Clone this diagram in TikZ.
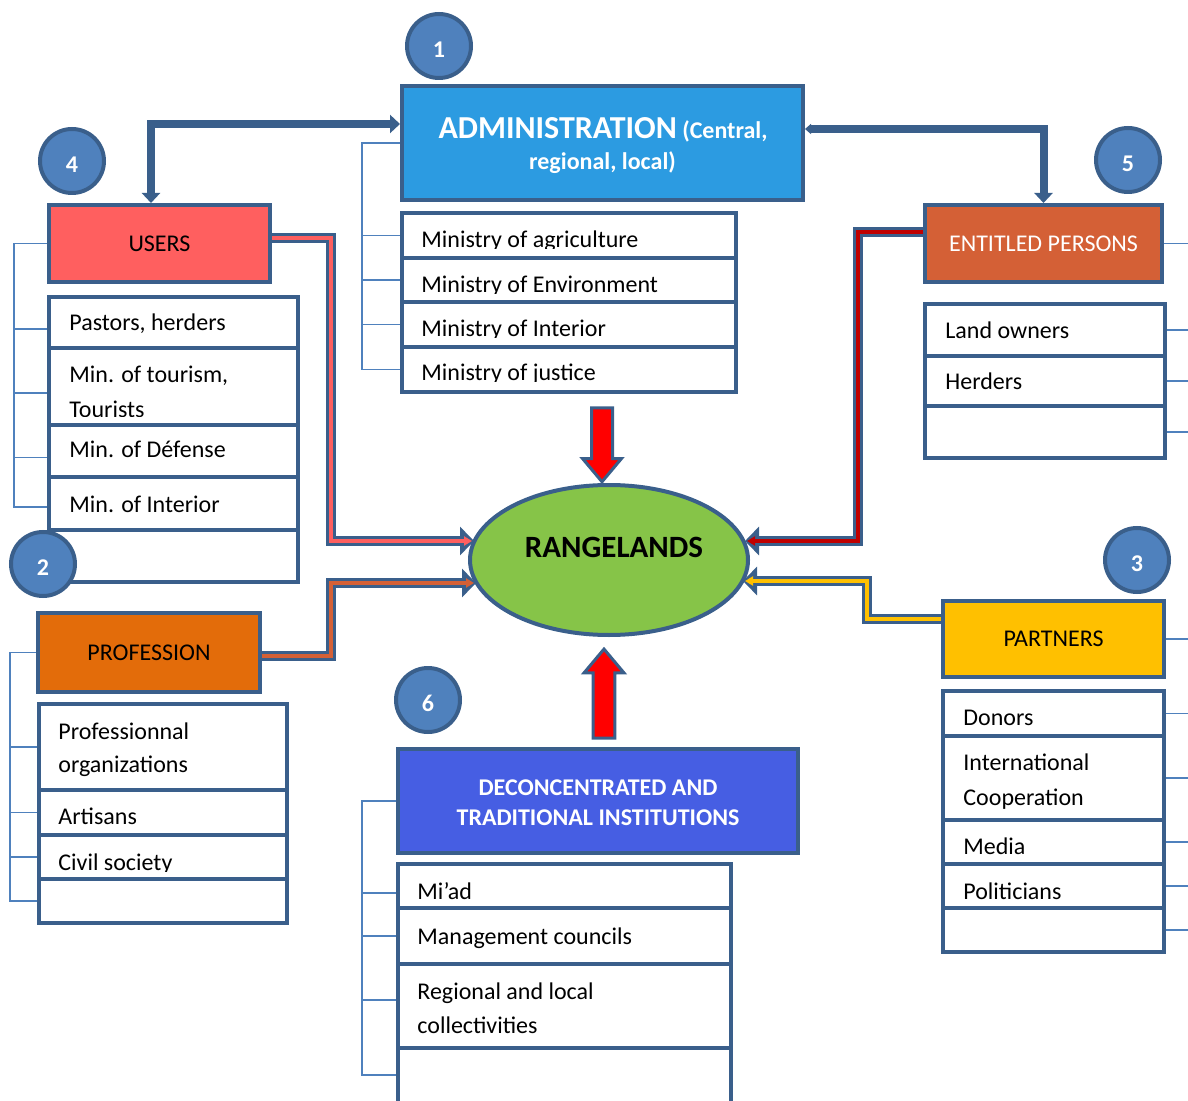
\documentclass[tikz,border=0pt]{standalone}
\usepackage{fontspec}
\setmainfont{Carlito}
\usetikzlibrary{arrows.meta,shapes.geometric,shapes.arrows}

\definecolor{edgeblue}{RGB}{58,95,139}
\definecolor{linkblue}{RGB}{79,129,189}
\definecolor{ballblue}{RGB}{79,129,189}
\definecolor{adminblue}{RGB}{44,155,225}
\definecolor{usersred}{RGB}{255,95,95}
\definecolor{entitledrust}{RGB}{212,96,54}
\definecolor{proforange}{RGB}{227,108,10}
\definecolor{partnersgold}{RGB}{255,192,0}
\definecolor{deconblue}{RGB}{70,94,227}
\definecolor{rangegreen}{RGB}{134,196,72}
\definecolor{darkred}{RGB}{192,0,0}

\begin{document}
\begin{tikzpicture}[x=0.5pt, y=-0.5pt,
  every node/.style={inner sep=0pt},
  box/.style={rectangle, draw=edgeblue, line width=2pt},
  head/.style={box, font=\fontsize{12}{14}\selectfont},
  row/.style={box, fill=white},
  item/.style={anchor=base west, font=\fontsize{12}{14}\selectfont},
  title/.style={anchor=base, text=white, font=\bfseries\fontsize{12}{14}\selectfont},
  ball/.style={circle, draw=edgeblue, line width=2pt, fill=ballblue, minimum size=32pt,
    text=white, text height=11.5pt, text depth=0pt, font=\bfseries\fontsize{12}{14}\selectfont},
  bracket/.style={draw=linkblue, line width=0.75pt},
  link/.style={draw=edgeblue, line width=4pt},
  flowout/.style={draw=edgeblue, line width=5pt, -{Triangle[length=7pt,width=14pt]}},
  flowin/.style={line width=2pt, -{Triangle[length=4pt,width=4.5pt]}, shorten >=1pt},
  block/.style={single arrow, draw=edgeblue, fill=red, line width=1.5pt,
    single arrow tip angle=80, single arrow head extend=4.5pt, inner sep=4.5pt}
]
\useasboundingbox (0,0) rectangle (1188,1101);
\coordinate (edge) at (1188,0);

% headers
\node[box, fill=adminblue, minimum width=200.5pt, minimum height=57pt] (admin) at (602.5,143) {};
\node[title] (admintitle) at (603,139) {{\fontsize{16}{18}\selectfont ADMINISTRATION} (Central,};
\node[title] (admintitle2) at (602.5,170) {regional, local)};
\node[head, fill=usersred, minimum width=110.5pt, minimum height=38.5pt] (users) at (159.5,243.5) {USERS};
\node[head, fill=entitledrust, text=white, minimum width=118.5pt, minimum height=38.5pt] (entitled) at (1043.5,243.5) {ENTITLED PERSONS};
\node[head, fill=proforange, minimum width=111pt, minimum height=39.5pt] (profession) at (149,652.5) {PROFESSION};
\node[head, fill=partnersgold, minimum width=110.5pt, minimum height=38pt] (partners) at (1053.5,639) {PARTNERS};
\node[box, fill=deconblue, minimum width=200pt, minimum height=52pt] (decon) at (598,801) {};
\node[title] (decontitle) at (598,795.7) {DECONCENTRATED AND};
\node[title] (decontitle2) at (598,825.7) {TRADITIONAL INSTITUTIONS};

% ministries
\node[row, minimum width=167pt, minimum height=22.5pt] (m1) at (569,235.5) {};
\node[row, minimum width=167pt, minimum height=22pt] (m2) at (569,280) {};
\node[row, minimum width=167pt, minimum height=22.5pt] (m3) at (569,324.5) {};
\node[row, minimum width=167pt, minimum height=22.5pt] (m4) at (569,369.5) {};
\begin{scope}
\clip (402,213) rectangle (736,249);
\node[item] (tm1) at (421,247.5) {Ministry of agriculture};
\end{scope}
\begin{scope}
\clip (402,258) rectangle (736,293.5);
\node[item] (tm2) at (421,292.2) {Ministry of Environment};
\end{scope}
\begin{scope}
\clip (402,302) rectangle (736,337.5);
\node[item] (tm3) at (421,336.5) {Ministry of Interior};
\end{scope}
\begin{scope}
\clip (402,347) rectangle (736,382);
\node[item] (tm4) at (421,381) {Ministry of justice};
\end{scope}

% users
\node[row, minimum width=124.5pt, minimum height=25.5pt] (u1) at (173.5,322.5) {};
\node[row, minimum width=124.5pt, minimum height=38.5pt] (u2) at (173.5,386.5) {};
\node[row, minimum width=124.5pt, minimum height=26pt] (u3) at (173.5,451) {};
\node[row, minimum width=124.5pt, minimum height=26.5pt] (u4) at (173.5,503.5) {};
\node[row, minimum width=124.5pt, minimum height=26pt] (u5) at (173.5,556) {};
\node[item] (tu1) at (69,331) {Pastors, herders};
\node[item] (tu2) at (69,383) {Min. of tourism,};
\begin{scope}
\clip (49,390) rectangle (298,416.5);
\node[item] (tu2b) at (69,417) {Tourists};
\end{scope}
\node[item] (tu3) at (69,458) {Min. of Défense};
\node[item] (tu4) at (69,512.5) {Min. of Interior};

% profession
\node[row, minimum width=124pt, minimum height=43pt] (p1) at (163,747) {};
\node[row, minimum width=124pt, minimum height=22.5pt] (p2) at (163,812.5) {};
\node[row, minimum width=124pt, minimum height=22pt] (p3) at (163,857) {};
\node[row, minimum width=124pt, minimum height=22pt] (p4) at (163,901) {};
\node[item] (tp1) at (58,739) {Professionnal};
\node[item] (tp1b) at (58,772.5) {organizations};
\node[item] (tp2) at (58,824.5) {Artisans};
\begin{scope}
\clip (39,835) rectangle (287,871);
\node[item] (tp3) at (58,870) {Civil society};
\end{scope}

% entitled persons
\node[row, minimum width=120pt, minimum height=26pt] (e1) at (1045,330) {};
\node[row, minimum width=120pt, minimum height=25pt] (e2) at (1045,381) {};
\node[row, minimum width=120pt, minimum height=26pt] (e3) at (1045,432) {};
\node[item] (te1) at (945,338.5) {Land owners};
\node[item] (te2) at (945,390) {Herders};

% partners
\node[row, minimum width=110.5pt, minimum height=22.5pt] (pa1) at (1053.5,713.5) {};
\node[row, minimum width=110.5pt, minimum height=42pt] (pa2) at (1053.5,778) {};
\node[row, minimum width=110.5pt, minimum height=22pt] (pa3) at (1053.5,842) {};
\node[row, minimum width=110.5pt, minimum height=22pt] (pa4) at (1053.5,886) {};
\node[row, minimum width=110.5pt, minimum height=22pt] (pa5) at (1053.5,930) {};
\node[item] (tpa1) at (963,725.5) {Donors};
\node[item] (tpa2) at (963,770) {International};
\node[item] (tpa2b) at (963,805) {Cooperation};
\node[item] (tpa3) at (963,854.5) {Media};
\node[item] (tpa4) at (963,899) {Politicians};

% deconcentrated
\node[row, minimum width=166.5pt, minimum height=22pt] (d1) at (564.5,886) {};
\node[row, minimum width=166.5pt, minimum height=28pt] (d2) at (564.5,936) {};
\node[row, minimum width=166.5pt, minimum height=42pt] (d3) at (564.5,1006) {};
\node[row, minimum width=166.5pt, minimum height=36pt] (d4) at (564.5,1084) {};
\node[item] (td1) at (417,899) {Mi’ad};
\node[item] (td2) at (417,944) {Management councils};
\node[item] (td3) at (417,999) {Regional and local};
\node[item] (td3b) at (417,1033.5) {collectivities};

% brackets
\draw[bracket] (admin.west) -- ++(-38,0) |- (m4.west);
\foreach \r in {m1,m2,m3} \draw[bracket] (\r.west) -- ++(-38,0);
\draw[bracket] (users.west) -- ++(-33,0) |- ([yshift=-1.75pt]u4.west);
\foreach \r in {u1,u2,u3} \draw[bracket] ([yshift=-3.25pt]\r.west) -- ++(-33,0);
\draw[bracket] (profession.west) -- ++(-26,0) |- (p4.west);
\foreach \r in {p1,p2,p3} \draw[bracket] (\r.west) -- ++(-27,0);
\draw[bracket] (decon.west) -- ++(-34,0) |- ([yshift=4.5pt]d4.west);
\draw[bracket] ([yshift=-3.5pt]d1.west) -- ++(-34,0);
\draw[bracket] (d2.west) -- ++(-34,0);
\draw[bracket] ([yshift=3pt]d3.west) -- ++(-34,0);
\foreach \r in {entitled,e1,e2,e3,partners,pa1,pa2,pa3,pa4,pa5}
  \draw[bracket] (\r.east) -- (\r.east -| edge);

% rangelands
\node[ellipse, draw=edgeblue, line width=2pt, fill=rangegreen, minimum width=139pt, minimum height=75pt] (range) at (609,560) {};
\node[anchor=base, font=\bfseries\fontsize{15.5}{18}\selectfont] (rangetext) at (614,557) {RANGELANDS};

% numbers
\node[ball] (c1) at (439,46) {1};
\node[ball] (c2) at (43,564) {2};
\node[ball] (c3) at (1137,560) {3};
\node[ball] (c4) at (72,161) {4};
\node[ball] (c5) at (1128,160) {5};
\node[ball] (c6) at (428,700) {6};

% links to the administration
\draw[link, {Triangle[length=5pt,width=9pt]}-{Triangle[length=5pt,width=9pt]}]
  ([xshift=-4.25pt]users.north) |- ([yshift=9.5pt]admin.west);
\draw[link, {Triangle[length=3pt,width=5pt]}-{Triangle[length=5pt,width=9pt]}]
  ([yshift=7pt]admin.east) -| (entitled.north);

% flows into the rangelands
\coordinate (ubend) at (331,541);
\coordinate (utip) at (474,541);
\coordinate (pbend) at (331,583);
\coordinate (ptip) at (476,583);
\coordinate (ebend) at (858,541);
\coordinate (etip) at (745,541);
\coordinate (pabend) at (867,581);
\coordinate (patip) at (743,581);

\draw[flowout] ([yshift=2.75pt]users.east) -| (ubend) -- (utip);
\draw[flowin, usersred] ([yshift=2.75pt]users.east) -| (ubend) -- (utip);
\draw[flowout] ([yshift=-1.75pt]profession.east) -| (pbend) -- (ptip);
\draw[flowin, entitledrust] ([yshift=-1.75pt]profession.east) -| (pbend) -- (ptip);
\draw[flowout] ([yshift=5.75pt]entitled.west) -| (ebend) -- (etip);
\draw[flowin, darkred] ([yshift=5.75pt]entitled.west) -| (ebend) -- (etip);
\draw[flowout] ([yshift=10pt]partners.west) -| (pabend) -- (patip);
\draw[flowin, partnersgold] ([yshift=10pt]partners.west) -| (pabend) -- (patip);

\node[block, shape border rotate=270, minimum height=37pt, minimum width=19pt] (down) at (602,438.5) {};
\node[block, shape border rotate=90, minimum height=44.5pt, minimum width=20pt] (up) at (604,700) {};
%\draw[dotted] (range.north) -- (m4.south);

\end{tikzpicture}
\end{document}
